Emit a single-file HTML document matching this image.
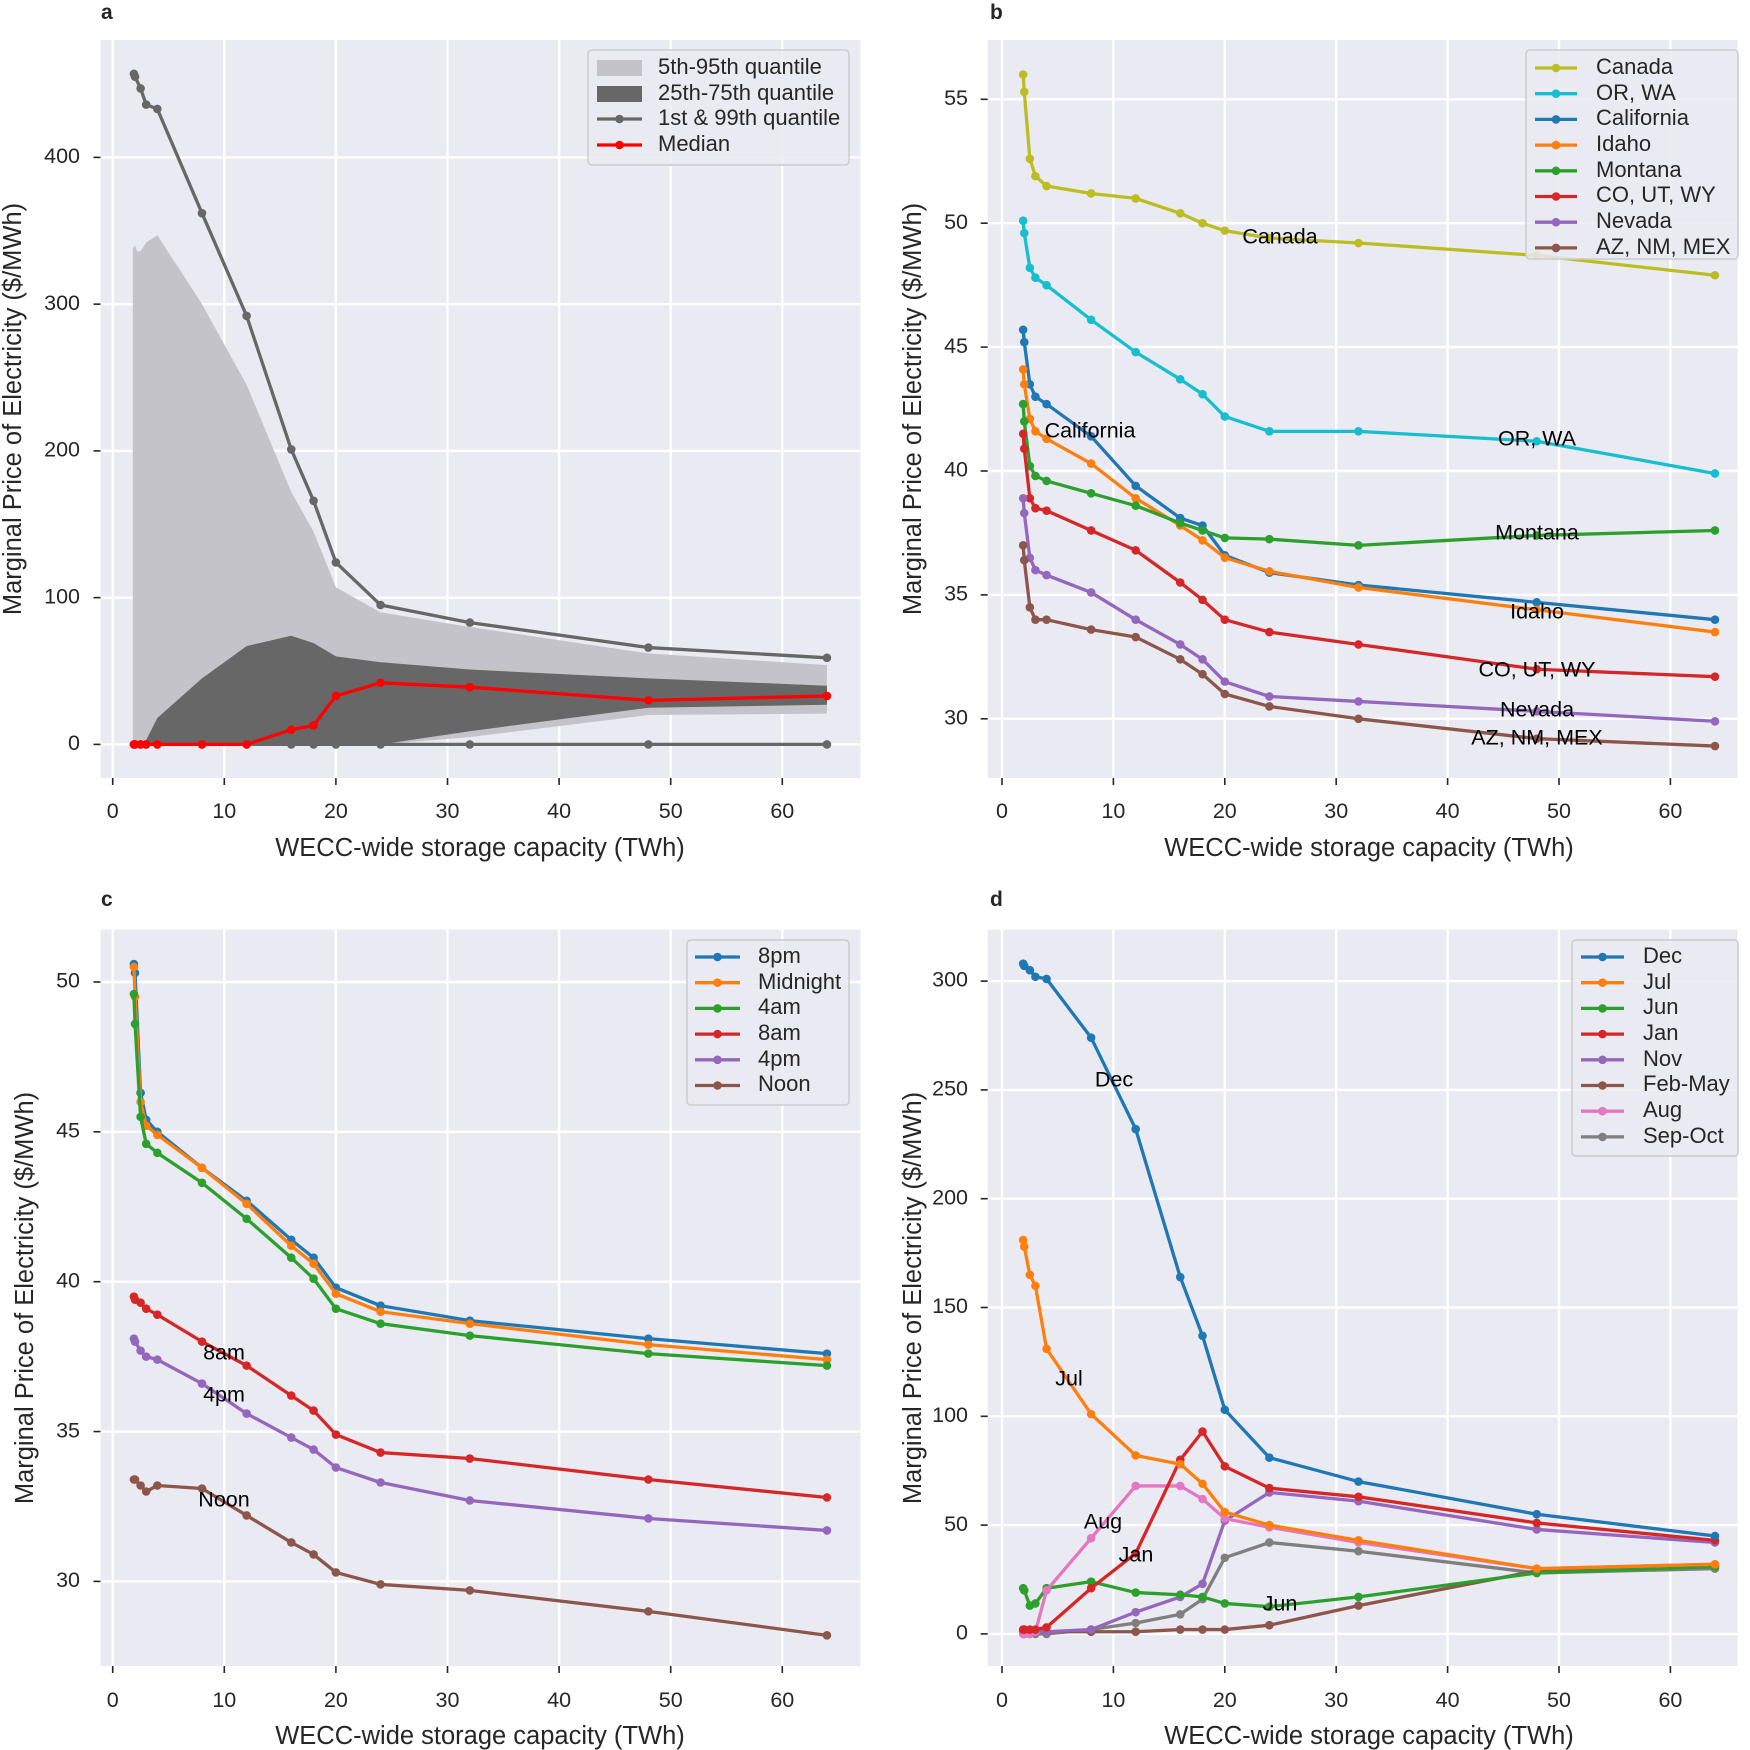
<!DOCTYPE html>
<html><head><meta charset="utf-8"><style>
body{margin:0;background:#fff}
svg{display:block;font-family:"Liberation Sans",Arial,sans-serif}
.t{font-size:21.5px;fill:#262626}
.xl{font-size:25.5px;fill:#262626;text-anchor:middle}
.pl{font-size:21px;font-weight:bold;fill:#262626}
.lg{font-size:22px;fill:#262626}
.il{font-size:21.5px;fill:#000;text-anchor:middle;dominant-baseline:middle}
</style></head><body>
<svg id="s" width="1750" height="1750" viewBox="0 0 1750 1750" xmlns="http://www.w3.org/2000/svg">
<g id="bg"></g>
<g id="data"></g>
<text class="pl" x="101" y="19">a</text>
<text class="pl" x="990" y="19">b</text>
<text class="pl" x="101" y="906">c</text>
<text class="pl" x="990" y="906">d</text>
<g class="t" text-anchor="middle">
<text x="112.7" y="818">0</text><text x="224.3" y="818">10</text><text x="335.9" y="818">20</text><text x="447.5" y="818">30</text><text x="559.1" y="818">40</text><text x="670.7" y="818">50</text><text x="782.3" y="818">60</text>
<text x="1002" y="818">0</text><text x="1113.4" y="818">10</text><text x="1224.8" y="818">20</text><text x="1336.2" y="818">30</text><text x="1447.6" y="818">40</text><text x="1559" y="818">50</text><text x="1670.4" y="818">60</text>
<text x="112.7" y="1707">0</text><text x="224.3" y="1707">10</text><text x="335.9" y="1707">20</text><text x="447.5" y="1707">30</text><text x="559.1" y="1707">40</text><text x="670.7" y="1707">50</text><text x="782.3" y="1707">60</text>
<text x="1002" y="1707">0</text><text x="1113.4" y="1707">10</text><text x="1224.8" y="1707">20</text><text x="1336.2" y="1707">30</text><text x="1447.6" y="1707">40</text><text x="1559" y="1707">50</text><text x="1670.4" y="1707">60</text>
</g>
<g class="t" text-anchor="end" dominant-baseline="middle">
<text x="80" y="744.4">0</text><text x="80" y="597.7">100</text><text x="80" y="451">200</text><text x="80" y="304.2">300</text><text x="80" y="157.4">400</text>
<text x="968" y="99.3">55</text><text x="968" y="223.2">50</text><text x="968" y="347.1">45</text><text x="968" y="471">40</text><text x="968" y="594.9">35</text><text x="968" y="718.8">30</text>
<text x="80" y="982">50</text><text x="80" y="1131.9">45</text><text x="80" y="1281.7">40</text><text x="80" y="1431.6">35</text><text x="80" y="1581.4">30</text>
<text x="968" y="981">300</text><text x="968" y="1089.8">250</text><text x="968" y="1198.6">200</text><text x="968" y="1307.5">150</text><text x="968" y="1416.3">100</text><text x="968" y="1525.1">50</text><text x="968" y="1633.9">0</text>
</g>
<text class="xl" x="480" y="856">WECC-wide storage capacity (TWh)</text>
<text class="xl" x="1369" y="856">WECC-wide storage capacity (TWh)</text>
<text class="xl" x="480" y="1744">WECC-wide storage capacity (TWh)</text>
<text class="xl" x="1369" y="1744">WECC-wide storage capacity (TWh)</text>
<text class="xl" transform="translate(21,409) rotate(-90)">Marginal Price of Electricity ($/MWh)</text>
<text class="xl" transform="translate(921,409) rotate(-90)">Marginal Price of Electricity ($/MWh)</text>
<text class="xl" transform="translate(33,1298) rotate(-90)">Marginal Price of Electricity ($/MWh)</text>
<text class="xl" transform="translate(921,1298) rotate(-90)">Marginal Price of Electricity ($/MWh)</text>
<g id="inl">
<text class="il" x="1280" y="238">Canada</text>
<text class="il" x="1090" y="432">California</text>
<text class="il" x="1537" y="440">OR, WA</text>
<text class="il" x="1537" y="534">Montana</text>
<text class="il" x="1537" y="613">Idaho</text>
<text class="il" x="1537" y="671">CO, UT, WY</text>
<text class="il" x="1537" y="711">Nevada</text>
<text class="il" x="1537" y="739">AZ, NM, MEX</text>
<text class="il" x="224" y="1354">8am</text>
<text class="il" x="224" y="1396">4pm</text>
<text class="il" x="224" y="1501">Noon</text>
<text class="il" x="1114" y="1081">Dec</text>
<text class="il" x="1069" y="1380">Jul</text>
<text class="il" x="1103" y="1523">Aug</text>
<text class="il" x="1136" y="1556">Jan</text>
<text class="il" x="1280" y="1605">Jun</text>
</g>
<g id="leg"></g>
<g class="lg" dominant-baseline="middle">
<text x="658" y="68">5th-95th quantile</text><text x="658" y="94">25th-75th quantile</text><text x="658" y="119">1st &amp; 99th quantile</text><text x="658" y="145">Median</text>
<text x="1596" y="68">Canada</text><text x="1596" y="94">OR, WA</text><text x="1596" y="119">California</text><text x="1596" y="145">Idaho</text><text x="1596" y="171">Montana</text><text x="1596" y="196">CO, UT, WY</text><text x="1596" y="222">Nevada</text><text x="1596" y="248">AZ, NM, MEX</text>
<text x="758" y="957">8pm</text><text x="758" y="983">Midnight</text><text x="758" y="1008">4am</text><text x="758" y="1034">8am</text><text x="758" y="1060">4pm</text><text x="758" y="1085">Noon</text>
<text x="1643" y="957">Dec</text><text x="1643" y="983">Jul</text><text x="1643" y="1008">Jun</text><text x="1643" y="1034">Jan</text><text x="1643" y="1060">Nov</text><text x="1643" y="1085">Feb-May</text><text x="1643" y="1111">Aug</text><text x="1643" y="1137">Sep-Oct</text>
</g>
</svg>
<script>
var NS="http://www.w3.org/2000/svg";
function el(p,t,a){var e=document.createElementNS(NS,t);for(var k in a)e.setAttribute(k,a[k]);p.appendChild(e);return e;}
var bg=document.getElementById('bg'),dg=document.getElementById('data'),lg=document.getElementById('leg');
var XS=[1.9,2,2.5,3,4,8,12,16,18,20,24,32,48,64];
var P={
a:{r:[100.5,40,860.5,778],X:function(x){return 112.7+11.16*x},Y:function(v){return 744.4-1.4675*v},yt:[0,100,200,300,400]},
b:{r:[987.7,40,1737.6,778],X:function(x){return 1002+11.14*x},Y:function(v){return 99.3+(55-v)*24.78},yt:[30,35,40,45,50,55]},
c:{r:[100.5,929.7,860.5,1666],X:function(x){return 112.7+11.16*x},Y:function(v){return 982+(50-v)*29.97},yt:[30,35,40,45,50]},
d:{r:[987.7,929.7,1737.6,1666],X:function(x){return 1002+11.14*x},Y:function(v){return 1633.9-v*2.176},yt:[0,50,100,150,200,250,300]}};
for(var k in P){var p=P[k],r=p.r;
el(bg,'rect',{x:r[0],y:r[1],width:r[2]-r[0],height:r[3]-r[1],fill:'#eaeaf2'});
for(var t=0;t<=60;t+=10){var x=p.X(t);el(bg,'line',{x1:x,x2:x,y1:r[1],y2:r[3],stroke:'#fff','stroke-width':2.4});el(bg,'line',{x1:x,x2:x,y1:r[3],y2:r[3]+7,stroke:'#262626','stroke-width':1.6});}
p.yt.forEach(function(v){var y=p.Y(v);el(bg,'line',{x1:r[0],x2:r[2],y1:y,y2:y,stroke:'#fff','stroke-width':2.4});el(bg,'line',{x1:r[0]-7,x2:r[0],y1:y,y2:y,stroke:'#262626','stroke-width':1.6});});
}
function band(p,xs,up,lo,col){var pts=[];for(var i=0;i<xs.length;i++)pts.push(p.X(xs[i])+','+p.Y(up[i]));for(var i=xs.length-1;i>=0;i--)pts.push(p.X(xs[i])+','+p.Y(lo[i]));el(dg,'polygon',{points:pts.join(' '),fill:col});}
function line(p,ys,col){var pts=[];for(var i=0;i<ys.length;i++)if(ys[i]!=null)pts.push(p.X(XS[i])+','+p.Y(ys[i]));el(dg,'polyline',{points:pts.join(' '),fill:'none',stroke:col,'stroke-width':3.3,'stroke-linejoin':'round'});
for(var i=0;i<ys.length;i++)if(ys[i]!=null)el(dg,'circle',{cx:p.X(XS[i]),cy:p.Y(ys[i]),r:4.3,fill:col});}
var pa=P.a;
band(pa,[1.8,2,2.2,2.5,3,4,8,12,16,18,20,24,32,48,64],[338,340,336,336,342,347,300,245,172,145,107,90,80,62,54],[0,0,0,0,0,0,0,0,0,0,0,0,5,20,21],'#c3c3c9');
band(pa,[2.9,3,4,8,12,16,18,20,24,32,48,64],[0,3,18,45,67,74,69,60,56,51,45,40],[0,0,0,0,0,0,0,0,0,9,25,27],'#676767');
line(pa,[0,0,0,0,0,0,0,0,0,0,0,0,0,0],'#676767');
line(pa,[457,455,447,436,433,362,292,201,166,124,95,83,66,59],'#676767');
line(pa,[0,0,0,0,0,0,0,10,13,33,42,39,30,33],'#ff0000');
var B=[['#bcbd22',[56,55.3,52.6,51.9,51.5,51.2,51.0,50.4,50.0,49.7,49.4,49.2,48.7,47.9]],
['#17becf',[50.1,49.6,48.2,47.8,47.5,46.1,44.8,43.7,43.1,42.2,41.6,41.6,41.2,39.9]],
['#1f77b4',[45.7,45.2,43.5,43.0,42.7,41.4,39.4,38.1,37.8,36.6,35.9,35.4,34.7,34.0]],
['#ff7f0e',[44.1,43.5,42.1,41.6,41.3,40.3,38.9,37.8,37.2,36.5,35.95,35.3,34.4,33.5]],
['#2ca02c',[42.7,42.0,40.2,39.8,39.6,39.1,38.6,37.9,37.6,37.3,37.25,37.0,37.4,37.6]],
['#d62728',[41.5,40.9,38.9,38.5,38.4,37.6,36.8,35.5,34.8,34.0,33.5,33.0,32.0,31.7]],
['#9467bd',[38.9,38.3,36.5,36.0,35.8,35.1,34.0,33.0,32.4,31.5,30.9,30.7,30.3,29.9]],
['#8c564b',[37.0,36.4,34.5,34.0,34.0,33.6,33.3,32.4,31.8,31.0,30.5,30.0,29.2,28.9]]];
B.forEach(function(s){line(P.b,s[1],s[0]);});
var C=[['#1f77b4',[50.6,50.3,46.3,45.4,45.0,43.8,42.7,41.4,40.8,39.8,39.2,38.7,38.1,37.6]],
['#ff7f0e',[50.5,49.5,46.0,45.2,44.9,43.8,42.6,41.2,40.6,39.6,39.0,38.6,37.9,37.4]],
['#2ca02c',[49.6,48.6,45.5,44.6,44.3,43.3,42.1,40.8,40.1,39.1,38.6,38.2,37.6,37.2]],
['#d62728',[39.5,39.4,39.3,39.1,38.9,38.0,37.2,36.2,35.7,34.9,34.3,34.1,33.4,32.8]],
['#9467bd',[38.1,38.0,37.7,37.5,37.4,36.6,35.6,34.8,34.4,33.8,33.3,32.7,32.1,31.7]],
['#8c564b',[33.4,33.4,33.2,33.0,33.2,33.1,32.2,31.3,30.9,30.3,29.9,29.7,29.0,28.2]]];
C.forEach(function(s){line(P.c,s[1],s[0]);});
var D=[['#7f7f7f',[0,0,0,0,0,2,5,9,16,35,42,38,28,30]],
['#8c564b',[1,1,1,1,1,1,1,2,2,2,4,13,29,31]],
['#9467bd',[1,1,1,1,1,2,10,17,23,52,65,61,48,42]],
['#2ca02c',[21,20,13,14,21,24,19,18,17,14,12.5,17,28,31]],
['#e377c2',[0,0,0,1,20,44,68,68,62,53,49,42,30,32]],
['#d62728',[2,2,2,2,3,21,37,80,93,77,67,63,51,43]],
['#ff7f0e',[181,178,165,160,131,101,82,78,69,56,50,43,30,32]],
['#1f77b4',[308,307,305,302,301,274,232,164,137,103,81,70,55,45]]];
D.forEach(function(s){line(P.d,s[1],s[0]);});
function box(x1,y1,x2,y2){el(lg,'rect',{x:x1,y:y1,width:x2-x1,height:y2-y1,rx:4,fill:'#eaeaf2','fill-opacity':0.85,stroke:'#cccccc','stroke-width':1.5});}
function h(x1,x2,y,c){el(lg,'line',{x1:x1,x2:x2,y1:y,y2:y,stroke:c,'stroke-width':3.3});el(lg,'circle',{cx:(x1+x2)/2,cy:y,r:4.3,fill:c});}
box(588,50,849,165);
el(lg,'rect',{x:597,y:60,width:45,height:16,fill:'#c3c3c9'});el(lg,'rect',{x:597,y:86,width:45,height:16,fill:'#676767'});
h(597,642,119,'#676767');h(597,642,145,'#ff0000');
box(1526,50,1738,259);
B.forEach(function(s,i){h(1535,1577,68+i*25.7,s[0]);});
box(687,940,849,1105);
C.forEach(function(s,i){h(695,740,957+i*25.7,s[0]);});
box(1572,940,1738,1156);
['#1f77b4','#ff7f0e','#2ca02c','#d62728','#9467bd','#8c564b','#e377c2','#7f7f7f'].forEach(function(c,i){h(1581,1624,957+i*25.7,c);});
document.getElementById('s').appendChild(document.getElementById('inl'));
</script>
</body></html>
